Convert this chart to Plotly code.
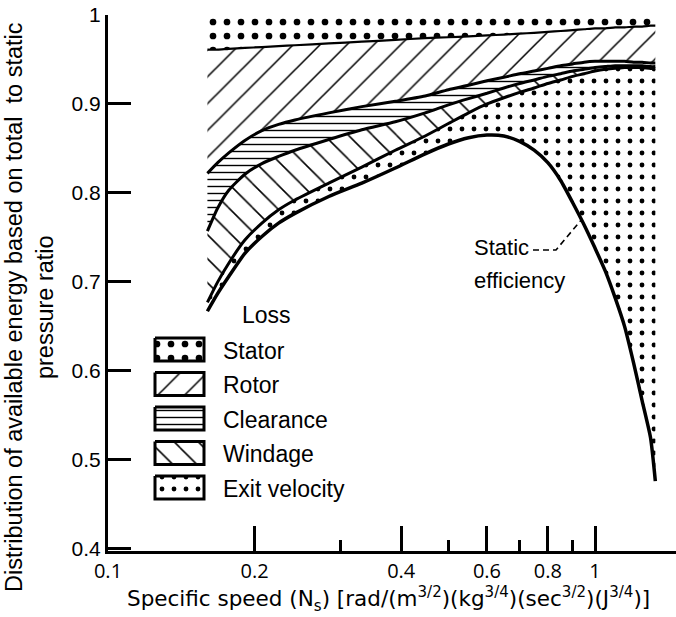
import plotly.graph_objects as go

# ---------------- data ----------------
ns = [0.16, 0.168, 0.177, 0.191, 0.207, 0.224, 0.242, 0.284, 0.332, 0.389, 0.448,
      0.5, 0.55, 0.6, 0.65, 0.7, 0.75, 0.8, 0.85, 0.9, 0.95, 1.0, 1.05, 1.1, 1.15,
      1.2, 1.25, 1.3, 1.33]
static_eff = [0.667, 0.687, 0.706, 0.732, 0.751, 0.766, 0.777, 0.796, 0.811, 0.828,
              0.844, 0.855, 0.862, 0.865, 0.864, 0.858, 0.848, 0.834, 0.814, 0.789,
              0.764, 0.738, 0.712, 0.682, 0.650, 0.609, 0.566, 0.525, 0.476]
windage_top = [0.677, 0.700, 0.721, 0.747, 0.766, 0.781, 0.792, 0.811, 0.829, 0.848,
               0.864, 0.878, 0.890, 0.900, 0.907, 0.913, 0.918, 0.923, 0.927, 0.931,
               0.934, 0.937, 0.939, 0.940, 0.941, 0.941, 0.941, 0.940, 0.940]
clearance_top = [0.757, 0.783, 0.803, 0.821, 0.833, 0.841, 0.848, 0.860, 0.871, 0.880,
                 0.890, 0.899, 0.906, 0.912, 0.918, 0.923, 0.927, 0.931, 0.934, 0.937,
                 0.939, 0.941, 0.942, 0.943, 0.943, 0.943, 0.943, 0.942, 0.942]
rotor_top = [0.822, 0.834, 0.845, 0.859, 0.870, 0.877, 0.882, 0.890, 0.897, 0.903,
             0.909, 0.916, 0.921, 0.926, 0.930, 0.934, 0.937, 0.940, 0.943, 0.945,
             0.947, 0.948, 0.948, 0.948, 0.948, 0.947, 0.947, 0.946, 0.946]
stator_bottom = [0.961, 0.961, 0.962, 0.963, 0.964, 0.965, 0.966, 0.968, 0.970, 0.972,
                 0.974, 0.975, 0.976, 0.977, 0.978, 0.979, 0.980, 0.981, 0.982, 0.983,
                 0.984, 0.985, 0.985, 0.986, 0.986, 0.987, 0.987, 0.988, 0.988]
total = [1.0] * len(ns)

loss_names = ["Stator", "Rotor", "Clearance", "Windage", "Exit velocity"]
x_ticks = [0.1, 0.2, 0.4, 0.6, 0.8, 1.0]
x_tick_text = ["0.1", "0.2", "0.4", "0.6", "0.8", "1"]
x_minor = [0.3, 0.5, 0.7, 0.9]
y_ticks = [0.4, 0.5, 0.6, 0.7, 0.8, 0.9, 1.0]
y_tick_text = ["0.4", "0.5", "0.6", "0.7", "0.8", "0.9", "1"]

# ---------------- fill patterns ----------------
def pat(shape, size, solidity):
    return dict(shape=shape, size=size, solidity=solidity, fgcolor="black",
                bgcolor="white", fillmode="replace", fgopacity=1)

P_STATOR = pat(".", 14, 0.18)
P_ROTOR = pat("/", 19, 0.08)
P_CLEAR = pat("-", 7, 0.2)
P_WIND = pat("\\", 17, 0.09)
P_EXIT = pat(".", 12, 0.13)
patterns = [P_STATOR, P_ROTOR, P_CLEAR, P_WIND, P_EXIT]

# ---------------- figure ----------------
fig = go.Figure()
shape = dict(shape="spline", smoothing=0.6)

fig.add_trace(go.Scatter(x=ns, y=static_eff, mode="lines", hoverinfo="skip",
                         line=dict(color="black", width=3.5, **shape)))
bands = [(windage_top, P_EXIT, 3), (clearance_top, P_WIND, 3),
         (rotor_top, P_CLEAR, 3), (stator_bottom, P_ROTOR, 2.2), (total, P_STATOR, 0)]
for yv, p, w in bands:
    fig.add_trace(go.Scatter(x=ns, y=yv, mode="lines", fill="tonexty",
                             fillcolor="white", fillpattern=p, hoverinfo="skip",
                             line=dict(color="black", width=w, **shape)))

# custom legend drawn on a pixel-unit overlay axis pair
box_x0, box_x1 = 155, 204
row0, row_step, box_h = 338, 34.5, 23
FONT = dict(family="Liberation Sans", size=23, color="black")
for i, (name, p) in enumerate(zip(loss_names, patterns)):
    y0 = row0 + i * row_step
    y1 = y0 + box_h
    fig.add_trace(go.Scatter(x=[box_x0, box_x1, box_x1, box_x0, box_x0],
                             y=[y0, y0, y1, y1, y0], mode="lines", fill="toself",
                             fillcolor="white", fillpattern=p,
                             line=dict(color="black", width=3),
                             xaxis="x2", yaxis="y2", hoverinfo="skip"))
    fig.add_annotation(x=221, y=(y0 + y1) / 2 + 1, xref="x2", yref="y2", text=name,
                       showarrow=False, xanchor="left", yanchor="middle", font=FONT)
fig.add_annotation(x=266, y=315, xref="x2", yref="y2", text="Loss", showarrow=False,
                   xanchor="center", yanchor="middle", font=FONT)

# "Static efficiency" label with dashed leader
fig.add_annotation(x=472, y=247, xref="x2", yref="y2", text="Static", showarrow=False,
                   xanchor="left", yanchor="middle",
                   font=dict(family="Liberation Sans", size=22, color="black"))
fig.add_annotation(x=472, y=280, xref="x2", yref="y2", text="efficiency", showarrow=False,
                   xanchor="left", yanchor="middle",
                   font=dict(family="Liberation Sans", size=22, color="black"))
fig.add_shape(type="path", path="M533,250 L556,250 L582,219", xref="x2", yref="y2",
              line=dict(color="black", width=1.6, dash="6px,4px"))

# axis titles
fig.add_annotation(text="Distribution of available energy based on total\u00a0 to static<br>pressure ratio",
                   textangle=-90, xref="paper", yref="paper", x=0, y=0.5,
                   xanchor="center", yanchor="middle", xshift=-79, yshift=-24,
                   showarrow=False,
                   font=dict(family="Liberation Sans", size=23.5, color="black"))
fig.add_annotation(text="Specific speed (N<sub>s</sub>) [rad/(m<sup>3/2</sup>)(kg<sup>3/4</sup>)(sec<sup>3/2</sup>)(J<sup>3/4</sup>)]",
                   xref="paper", yref="paper", x=0.5, y=0, xanchor="center",
                   yanchor="middle", xshift=-4, yshift=-48, showarrow=False,
                   font=dict(family="DejaVu Sans", size=21.5, color="black"))

fig.update_layout(
    width=676, height=617,
    margin=dict(l=108, r=0, t=15, b=66),
    plot_bgcolor="white", paper_bgcolor="white",
    showlegend=False,
    xaxis=dict(type="log", range=[-1, 0.1663], tickmode="array", tickvals=x_ticks,
               ticktext=x_tick_text, ticks="inside", ticklen=25, tickwidth=3,
               tickcolor="black", showline=True, linewidth=3, linecolor="black",
               showgrid=False, zeroline=False,
               tickfont=dict(family="Open Sans", size=20, color="black"),
               minor=dict(tickmode="array", tickvals=x_minor, ticks="inside",
                          ticklen=11, tickwidth=3, tickcolor="black", showgrid=False)),
    yaxis=dict(range=[0.3975, 1.0], tickmode="array", tickvals=y_ticks,
               ticktext=y_tick_text, ticks="inside", ticklen=23, tickwidth=3,
               tickcolor="black", showline=True, linewidth=3, linecolor="black",
               showgrid=False, zeroline=False,
               tickfont=dict(family="Liberation Sans", size=21, color="black")),
    xaxis2=dict(overlaying="x", range=[108, 676], visible=False, anchor="y2"),
    yaxis2=dict(overlaying="y", range=[551, 15], visible=False, anchor="x2"),
)

fig.write_html("out.html")
